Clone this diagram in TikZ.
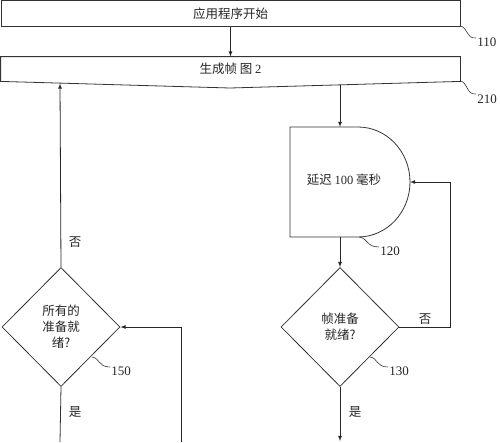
\documentclass[tikz,border=0pt]{standalone}
\usepackage{fontspec}
\setmainfont{Liberation Serif}
\newfontfamily\cjk{Noto Sans CJK SC}
\usepackage{tikz}
\usetikzlibrary{arrows,calc,positioning}
\usetikzlibrary{shapes.geometric}

\begin{document}
\begin{tikzpicture}[x=1pt,y=-1pt,line width=0.8pt,
	txt/.style={font=\fontsize{12.5}{16}\selectfont\cjk,text=black!85,align=center,inner sep=1pt},
	num/.style={font=\fontsize{13}{15}\selectfont,text=black!85,anchor=west,inner sep=0pt},
	box/.style={txt,draw=black!80,minimum width=459pt,minimum height=26pt,inner sep=0pt},
	decision/.style={txt,draw=black!80,diamond,minimum width=118pt,minimum height=119pt,inner sep=0pt},
	arr/.style={-latex,draw=black!85}]
	\useasboundingbox (0,0) rectangle (500,442);
	% top boxes
	\node[box] (start) at (230.5,13.5) {应用程序开始};
	\node[txt,minimum width=459pt,minimum height=24pt] (frame) at (230.5,69) {生成帧\ 图 {\rmfamily 2}};
	\draw[black!80] (frame.north west) -- (frame.north east) -- (frame.south east) -- (230,88) -- (frame.south west) -- cycle;
	\draw[arr] (start.south) -- (frame.north);
	\coordinate (fright) at (340,84.7);
	\coordinate (fleft) at (60,83.5);
	% delay
	\coordinate (dtop) at (340,127);
	\coordinate (dbot) at (340,237);
	\coordinate (dright) at (410,182);
	\draw[black!80] (290,127) -- (358,127) arc[start angle=-90,end angle=90,x radius=52,y radius=55] -- (290,237) -- cycle;
	\node[txt] (delay) at (344,180) {延迟 {\rmfamily 100} 毫秒};
	\draw[arr] (fright) -- (dtop);
	% decisions
	\node[decision] (ready) at (340,327) {帧准备\\就绪?};
	\node[decision] (allready) at (61,327) {所有的\\准备就\\绪?};
	\draw[arr] (dbot) -- (ready.north);
	\draw[arr] (ready.east) -- (450,327) |- (dright);
	\node[txt] (no1) at (425,319) {否};
	\draw[arr] (ready.south) -- (340,441);
	\node[txt] (yes1) at (355,412) {是};
	\draw[arr] (allready.north) -- (fleft);
	\node[txt] (no2) at (75,242) {否};
	\coordinate (loopin) at (181,442);
	\draw[arr] (loopin) -- (181,327) -- (allready.east);
	\draw[black!80] (allready.south) -- (60,442);
	\node[txt] (yes2) at (75,412) {是};
	% reference numbers
	\draw[black!80,line width=0.6pt] (460,26) .. controls (468,27) and (466,39) .. (476,38);
	\node[num] (n110) at (477,42) {110};
	\draw[black!80,line width=0.6pt] (460,81) .. controls (468,82) and (466,95) .. (476,94);
	\node[num] (n210) at (477,99) {210};
	\draw[black!80,line width=0.6pt] (359,237) .. controls (368,238) and (366,247) .. (379,247);
	\node[num] (n120) at (380,251) {120};
	\draw[black!80,line width=0.6pt] (370,357) .. controls (378,358) and (376,367) .. (388,367);
	\node[num] (n130) at (389,371) {130};
	\draw[black!80,line width=0.6pt] (92,357) .. controls (100,358) and (98,367) .. (110,367);
	\node[num] (n150) at (111,371) {150};
\end{tikzpicture}
\end{document}
